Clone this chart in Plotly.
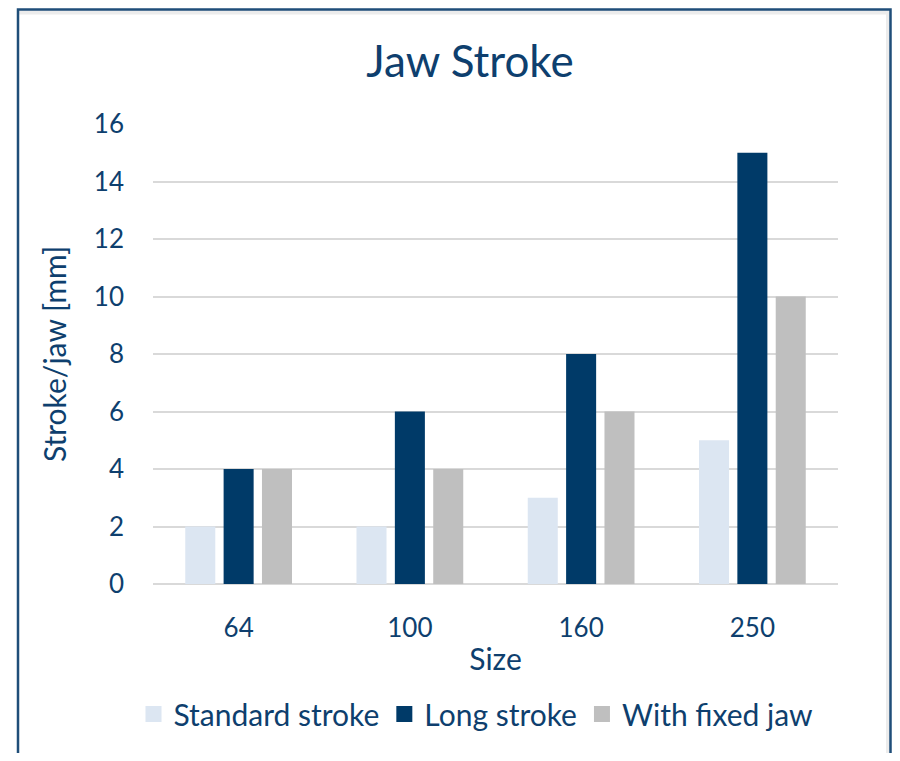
import plotly.graph_objects as go

categories = ["64", "100", "160", "250"]
standard_stroke = [2, 2, 3, 5]
long_stroke = [4, 6, 8, 15]
fixed_jaw = [4, 4, 6, 10]
series_names = ["Standard stroke", "Long stroke", "With fixed jaw"]
colors = ["#DCE6F2", "#003A68", "#BFBFBF"]
y_ticks = [0, 2, 4, 6, 8, 10, 12, 14, 16]

TEXT = "#0E3F6E"
FONT = "Lato, 'Open Sans', sans-serif"

OFF = 8  # page body margin
W, H = 900 - 2 * OFF, 761 - 2 * OFF
# target screen coordinates of the plot area
SL, SR, ST, SB = 153, 838, 124, 584
L, R, T, B = SL - OFF, SR - OFF, ST - OFF, SB - OFF

fig = go.Figure()
for name, vals, c in zip(series_names, [standard_stroke, long_stroke, fixed_jaw], colors):
    fig.add_trace(go.Bar(x=categories, y=vals, name=name, marker=dict(color=c, line=dict(width=0)),
                         showlegend=False, legendgroup=name))
# legend entries with larger square symbols
for name, c in zip(series_names, colors):
    fig.add_trace(go.Scatter(x=[None], y=[None], mode="markers", name=name, legendgroup=name,
                             marker=dict(symbol="square", size=17, color=c, line=dict(width=0))))

def px_x(sx):
    return (sx - SL) / (SR - SL)

def px_y(sy):
    return (SB - sy) / (SB - ST)

shapes = [
    dict(type="line", xref="paper", yref="paper", x0=px_x(19), x1=px_x(889), y0=px_y(12), y1=px_y(12),
         line=dict(color="#ECECEC", width=5), layer="below"),
    dict(type="line", xref="paper", yref="paper", x0=px_x(888), x1=px_x(888), y0=px_y(12), y1=px_y(770),
         line=dict(color="#ECECEC", width=4), layer="below"),
    dict(type="rect", xref="paper", yref="paper", x0=px_x(18), x1=px_x(890.5), y0=px_y(9.5), y1=px_y(790),
         line=dict(color="#1F4E79", width=2.5), fillcolor="rgba(0,0,0,0)"),
]

fig.update_layout(
    width=W, height=H,
    margin=dict(l=L, r=W - R, t=T, b=H - B),
    paper_bgcolor="white", plot_bgcolor="white",
    font=dict(family=FONT, color=TEXT),
    title=dict(text="Jaw Stroke", x=(470 - OFF) / W, xanchor="center", y=1 - (62 - OFF) / H, yanchor="middle",
               xref="container", yref="container", font=dict(size=44, color=TEXT, family=FONT)),
    barmode="group", bargap=0.328, bargroupgap=0.217,
    showlegend=True,
    legend=dict(orientation="h", x=(476 - OFF) / W, xref="container", xanchor="center",
                y=1 - (714 - OFF) / H, yref="container",
                yanchor="middle", font=dict(size=30, color=TEXT, family=FONT), itemwidth=30,
                traceorder="normal"),
    shapes=shapes,
)
fig.update_xaxes(
    title=dict(text="Size", font=dict(size=30, color=TEXT), standoff=6),
    tickfont=dict(size=26, color=TEXT), showgrid=False, showline=False, ticks="", ticklabelstandoff=26,
)
fig.update_yaxes(
    title=dict(text="Stroke/jaw [mm]", font=dict(size=30, color=TEXT), standoff=18),
    range=[0, 16], tickvals=y_ticks, tickfont=dict(size=26, color=TEXT),
    showgrid=True, gridcolor="#D9D9D9", gridwidth=1.5, zeroline=True, zerolinecolor="#D9D9D9", zerolinewidth=1.5,
    showline=False, ticks="", ticklabelstandoff=28,
)
fig.write_html("out.html")
